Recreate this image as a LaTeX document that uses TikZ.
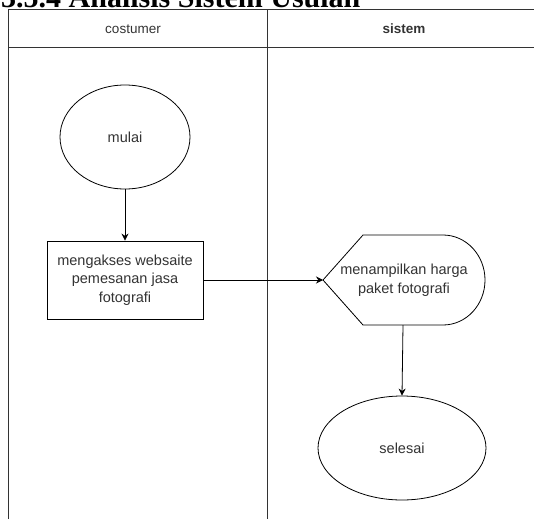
\documentclass[tikz,border=0pt]{standalone}
\usepackage{fontspec}
\setmainfont{Liberation Sans}
\newfontfamily\titlefont{Liberation Serif}
\usetikzlibrary{arrows.meta,shapes.geometric}
\begin{document}
\begin{tikzpicture}[x=1pt,y=-1pt,
  lane/.style={draw=black!80, line width=1pt},
  term/.style={draw, ellipse, line width=0.8pt, fill=white, inner sep=0},
  proc/.style={draw, line width=0.8pt, fill=white},
  txt/.style={font=\fontsize{14.5}{18.5}\selectfont, text=black!80, align=center},
  arr/.style={-{Stealth[length=7pt,width=7pt]}, line width=0.8pt}]
\useasboundingbox (0,0) rectangle (534,519);
\clip (0,0) rectangle (534,519);
% title (cut off at top, as in the reference)
\node[anchor=base west, inner sep=0, font=\titlefont\bfseries\fontsize{30}{34}\selectfont] (title) at (1,7.5) {3.5.4 Analisis Sistem Usulan};
% swimlanes
\draw[lane] (8.5,519) -- (8.5,9.5) -- (540,9.5);
\draw[lane] (8.5,47.5) -- (540,47.5);
\draw[lane] (267,9.5) -- (267,519);
\node[txt, font=\fontsize{13.5}{16}\selectfont] (h1) at (133,29) {costumer};
\node[txt, font=\bfseries\fontsize{13.5}{16}\selectfont] (h2) at (404,29) {sistem};
% nodes
\node[term, txt, minimum width=130pt, minimum height=104pt] (mulai) at (125,137) {mulai};
\node[proc, txt, minimum width=156pt, minimum height=78pt, inner sep=0] (box) at (125,280) {mengakses websaite\\pemesanan jasa\\fotografi};
\draw[line width=0.8pt, fill=white] (323,280) -- (363,235) -- (443,235) arc (-90:90:42 and 45) -- (363,325) -- cycle;
\coordinate (dispL) at (323,280);
\coordinate (dispB) at (403,325);
\node[txt] (disp) at (404,280) {menampilkan harga\\paket fotografi};
\node[term, txt, minimum width=168pt, minimum height=104pt] (selesai) at (402,448) {selesai};
% connectors
\draw[arr] (mulai.south) -- (box.north);
\draw[arr] (box.east) -- (dispL);
\draw[arr] (dispB) -- (selesai.north);
\end{tikzpicture}
\end{document}
